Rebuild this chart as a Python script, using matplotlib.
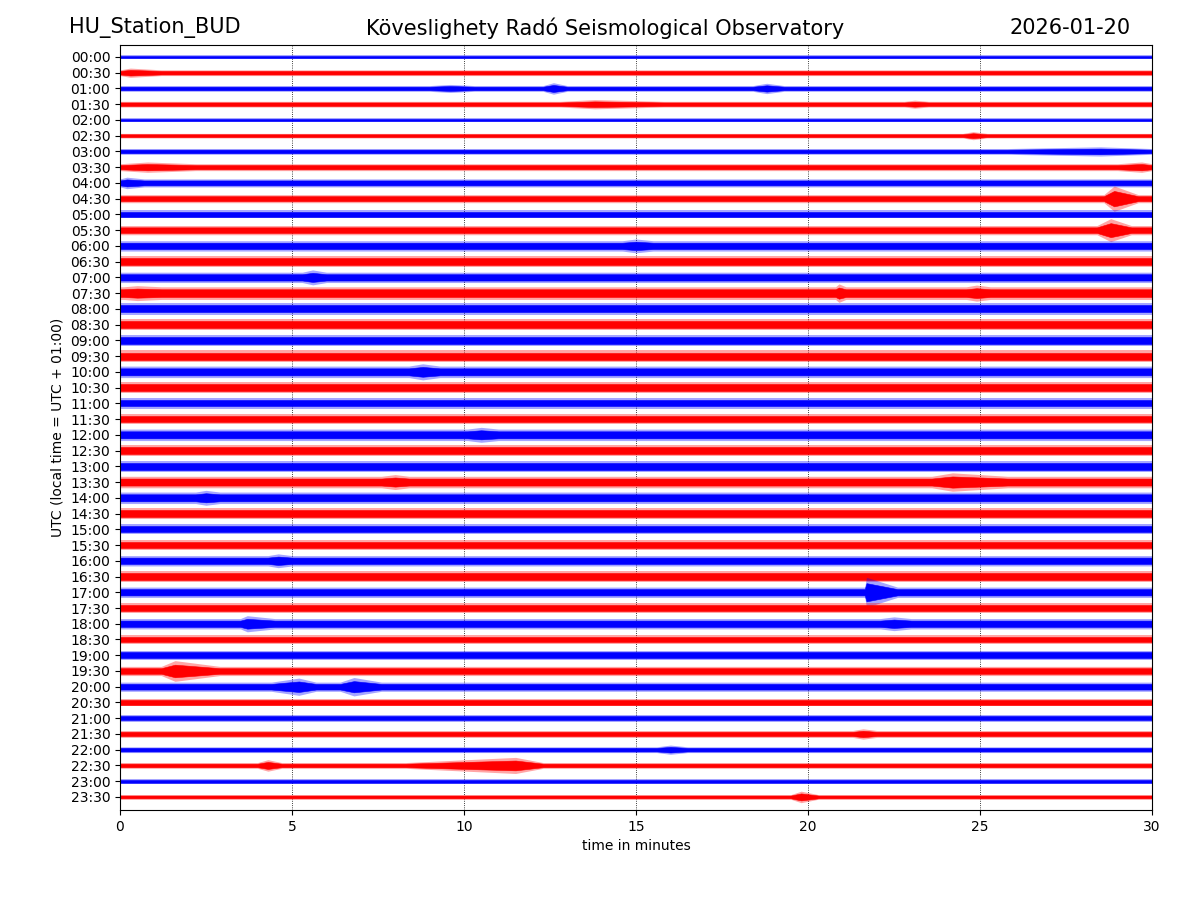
import matplotlib
matplotlib.use('Agg')
import matplotlib.pyplot as plt
import numpy as np

# half-hour rows of the helicorder, 00:00 at the top
row_labels = ['%02d:%02d' % (h, m) for h in range(24) for m in (0, 30)]

# typical peak-to-peak band height of each row, in pixels of the original plot
band_px = [4, 5, 5, 5, 4, 4, 5, 6, 7, 7, 7, 8,
           9, 9, 9, 11, 10, 10, 10, 10, 10, 10, 9, 9,
           10, 10, 10, 10, 10, 9, 9, 9, 9, 9, 9, 9,
           9, 8, 8, 8, 8, 6, 6, 6, 5, 5, 4, 4]

# events: (row, start minute, peak minute, end minute, peak-to-peak height px)
events = [
    (1, 0.0, 0.3, 1.2, 8),
    (2, 9.0, 9.6, 10.3, 7),
    (2, 12.3, 12.6, 13.0, 10),
    (2, 18.4, 18.8, 19.3, 9),
    (3, 12.8, 13.8, 15.8, 8),
    (3, 22.8, 23.1, 23.5, 7),
    (5, 24.5, 24.8, 25.2, 7),
    (6, 25.8, 28.5, 30.0, 8),
    (7, 0.0, 0.8, 2.2, 9),
    (7, 29.0, 29.7, 30.0, 9),
    (8, 0.0, 0.2, 0.7, 10),
    (9, 28.6, 28.9, 29.6, 22),
    (11, 28.4, 28.8, 29.4, 20),
    (12, 14.6, 15.0, 15.5, 12),
    (14, 5.3, 5.6, 6.0, 13),
    (15, 0.1, 0.5, 1.2, 13),
    (15, 20.8, 20.9, 21.1, 16),
    (15, 24.6, 24.9, 25.3, 14),
    (20, 8.4, 8.8, 9.3, 14),
    (24, 10.1, 10.5, 11.0, 13),
    (27, 7.6, 8.0, 8.4, 13),
    (27, 23.6, 24.2, 25.8, 16),
    (28, 2.2, 2.5, 2.9, 13),
    (32, 4.3, 4.6, 5.0, 12),
    (34, 21.65, 21.7, 22.6, 26),
    (36, 3.5, 3.7, 4.5, 14),
    (36, 22.1, 22.5, 23.0, 12),
    (39, 1.2, 1.6, 2.9, 18),
    (40, 4.4, 5.2, 5.7, 15),
    (40, 6.4, 6.8, 7.6, 16),
    (43, 21.3, 21.6, 22.0, 9),
    (44, 15.6, 16.0, 16.5, 8),
    (45, 4.0, 4.3, 4.7, 10),
    (45, 8.3, 11.5, 12.3, 14),
    (47, 19.5, 19.8, 20.3, 10),
]

colors = ['blue', 'red']
row_px = 15.74  # pixel distance between two rows in the original

fig = plt.figure(figsize=(12, 9), dpi=100)
ax = fig.add_axes([0.1, 0.1, 0.86, 0.85])

for i, label in enumerate(row_labels):
    base = band_px[i] / 2 / row_px
    xs = [0.0]
    amps = [base]
    for r, t0, tp, t1, h in sorted(events, key=lambda e: e[1]):
        if r != i:
            continue
        xs += [t0, tp, t1]
        amps += [base, h / 2 / row_px, base]
    xs.append(30.0)
    amps.append(base)
    xs = np.array(xs)
    amps = np.array(amps)
    c = colors[i % 2]
    # faint outer fringe for the occasional spikes, solid core for the bulk
    ax.fill_between(xs, i - amps * 1.15, i + amps * 1.15, color=c, alpha=0.35,
                    linewidth=0)
    ax.fill_between(xs, i - amps * 0.7, i + amps * 0.7, color=c, linewidth=0.4,
                    edgecolor=c)

ax.set_xlim(0, 30)
ax.set_ylim(47.83, -0.76)
ax.set_xticks(range(0, 31, 5))
ax.set_yticks(range(len(row_labels)))
ax.set_yticklabels(row_labels)
ax.set_axisbelow(True)
ax.grid(axis='x', linestyle=':', color='black', linewidth=0.6)
ax.set_xlabel('time in minutes')
ax.set_ylabel('UTC (local time = UTC + 01:00)')

fig.text(69 / 1200, 1 - 28 / 900, 'HU_Station_BUD', fontsize=15,
         ha='left', va='center')
fig.text(605 / 1200, 1 - 28 / 900, 'Köveslighety Radó Seismological Observatory',
         fontsize=15, ha='center', va='center')
fig.text(1131 / 1200, 1 - 28 / 900, '2026-01-20', fontsize=15,
         ha='right', va='center')

fig.savefig('out.png', dpi=100)
